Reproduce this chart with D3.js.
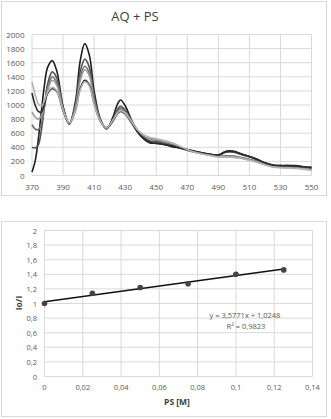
<!DOCTYPE html>
<html><head><meta charset="utf-8">
<script src="https://cdn.jsdelivr.net/npm/d3@7"></script>
<style>
body{margin:0;background:#fff;}
svg{display:block;font-family:"Open Sans","Noto Sans",sans-serif;}
</style></head>
<body>
<script>
// ---- Top chart data (emission spectra) ----
const wavelengths = [370,372,374,376,378,380,383,386,390,394,398,401,404,407,410,414,418,422,425,427,430,434,438,442,446,450,455,460,465,470,475,480,485,490,495,500,505,510,515,520,525,530,535,540,545,550];
const spec1 = [50,200,500,900,1280,1530,1630,1480,980,730,1050,1620,1870,1700,1200,800,660,820,1010,1070,990,790,630,520,460,460,440,410,390,370,340,320,300,290,345,345,300,270,230,180,150,140,140,140,120,110];
const spec2 = [400,390,430,640,980,1290,1470,1380,970,740,1000,1470,1650,1530,1130,790,670,790,935,980,925,770,625,540,490,480,455,430,400,370,345,320,300,285,330,330,295,265,220,175,145,135,135,130,115,100];
const spec3 = [720,660,650,730,970,1230,1400,1320,950,740,980,1390,1550,1450,1080,780,670,780,905,950,905,770,635,560,520,500,470,440,400,360,330,310,290,270,280,275,255,230,200,160,130,120,115,110,100,85];
const spec4 = [900,830,800,840,1010,1200,1350,1280,930,740,960,1340,1500,1410,1060,780,670,770,885,930,895,770,645,570,530,515,490,460,410,360,330,305,285,265,265,260,245,220,190,155,125,115,110,105,95,80];
const spec5 = [1170,1000,910,900,1010,1160,1230,1190,920,740,920,1230,1350,1280,1020,770,680,770,875,910,875,750,615,520,470,455,440,420,390,360,340,320,300,290,340,340,305,270,230,180,150,140,140,135,125,120];
const spec6 = [1330,1150,1020,980,1060,1180,1250,1200,930,745,920,1210,1330,1265,1010,770,680,780,885,920,885,770,645,575,540,520,495,465,420,365,330,305,285,265,260,255,240,215,185,150,120,110,105,100,90,75];
const spectra = [spec1,spec2,spec3,spec4,spec5,spec6];
const specColors = ["#1e1e1e","#505050","#6e6e6e","#9a9a9a","#2a2a2a","#b4b4b4"];
const xTicksTop = [370,390,410,430,450,470,490,510,530,550];
const yTicksTop = [0,200,400,600,800,1000,1200,1400,1600,1800,2000];

// ---- Bottom chart data (Stern-Volmer) ----
const psConc = [0,0.025,0.05,0.075,0.1,0.125];
const ioI = [1.0,1.14,1.22,1.27,1.40,1.46];
const slope = 3.5771, intercept = 1.0248;
const xTicksBot = [0,0.02,0.04,0.06,0.08,0.1,0.12,0.14];
const yTicksBot = [0,0.2,0.4,0.6,0.8,1,1.2,1.4,1.6,1.8,2];

const W=331,H=419;
const svg=d3.select("body").append("svg").attr("width",W).attr("height",H);
const grid="#d9d9d9", txt="#595959";
const fmt = v => String(+v.toFixed(3)).replace(".",",");

// ===== Top chart =====
svg.append("rect").attr("x",1.5).attr("y",1.5).attr("width",325).attr("height",194)
  .attr("fill","#fff").attr("stroke","#d9d9d9");
const xT=d3.scaleLinear().domain([370,550]).range([32,311.5]);
const yT=d3.scaleLinear().domain([0,2000]).range([175.5,34.5]);
const gT=svg.append("g");
gT.selectAll(".hg").data(yTicksTop).join("line")
  .attr("x1",xT(370)).attr("x2",xT(550)).attr("y1",d=>yT(d)).attr("y2",d=>yT(d))
  .attr("stroke",grid).attr("stroke-width",1);
gT.selectAll(".vg").data(xTicksTop).join("line")
  .attr("x1",d=>xT(d)).attr("x2",d=>xT(d)).attr("y1",yT(0)).attr("y2",yT(2000))
  .attr("stroke",grid).attr("stroke-width",1);
gT.selectAll(".yl").data(yTicksTop).join("text")
  .attr("x",24.5).attr("y",d=>yT(d)+3).attr("text-anchor","end")
  .attr("font-size",8).attr("fill",txt).text(d=>d);
gT.selectAll(".xl").data(xTicksTop).join("text")
  .attr("x",d=>xT(d)).attr("y",189.5).attr("text-anchor","middle")
  .attr("font-size",8).attr("fill",txt).text(d=>d);
const line=d3.line().x((d,i)=>xT(wavelengths[i])).y(d=>yT(d)).curve(d3.curveCatmullRom.alpha(0.5));
gT.selectAll(".sp").data(spectra).join("path")
  .attr("d",d=>line(d)).attr("fill","none")
  .attr("stroke",(d,i)=>specColors[i]).attr("stroke-width",1.6);
svg.append("text").attr("x",135).attr("y",21).attr("text-anchor","middle")
  .attr("font-size",13).attr("fill","#404040").text("AQ + PS");

// ===== Bottom chart =====
svg.append("rect").attr("x",1.5).attr("y",221.5).attr("width",325).attr("height",195)
  .attr("fill","#fff").attr("stroke","#d9d9d9");
const xB=d3.scaleLinear().domain([0,0.14]).range([44.5,312.5]);
const yB=d3.scaleLinear().domain([0,2]).range([376.5,230.5]);
const gB=svg.append("g");
gB.selectAll(".hg").data(yTicksBot).join("line")
  .attr("x1",xB(0)).attr("x2",xB(0.14)).attr("y1",d=>yB(d)).attr("y2",d=>yB(d))
  .attr("stroke",grid);
gB.selectAll(".vg").data(xTicksBot).join("line")
  .attr("x1",d=>xB(d)).attr("x2",d=>xB(d)).attr("y1",yB(0)).attr("y2",yB(2))
  .attr("stroke",grid);
gB.selectAll(".yl").data(yTicksBot).join("text")
  .attr("x",37).attr("y",d=>yB(d)+3).attr("text-anchor","end")
  .attr("font-size",7.5).attr("fill",txt).text(d=>fmt(d));
gB.selectAll(".xl").data(xTicksBot).join("text")
  .attr("x",d=>xB(d)).attr("y",390).attr("text-anchor","middle")
  .attr("font-size",7.5).attr("fill",txt).text(d=>fmt(d));
gB.append("line")
  .attr("x1",xB(0)).attr("y1",yB(intercept))
  .attr("x2",xB(psConc[psConc.length-1])).attr("y2",yB(slope*psConc[psConc.length-1]+intercept))
  .attr("stroke","#111").attr("stroke-width",1.6);
gB.selectAll(".pt").data(psConc).join("circle")
  .attr("cx",d=>xB(d)).attr("cy",(d,i)=>yB(ioI[i])).attr("r",2.8)
  .attr("fill","#444");
svg.append("text").attr("x",245).attr("y",318).attr("text-anchor","middle")
  .attr("font-size",7.5).attr("fill",txt).text("y = 3,5771x + 1,0248");
svg.append("text").attr("x",246).attr("y",329).attr("text-anchor","middle")
  .attr("font-size",7.5).attr("fill",txt).text("R² = 0,9823");
svg.append("text").attr("x",177).attr("y",405).attr("text-anchor","middle")
  .attr("font-size",8.5).attr("font-weight","bold").attr("fill","#404040").text("PS [M]");
svg.append("text").attr("transform","translate(22,303) rotate(-90)").attr("text-anchor","middle")
  .attr("font-size",8.5).attr("font-weight","bold").attr("fill","#404040").text("Io/I");
</script>
</body></html>
